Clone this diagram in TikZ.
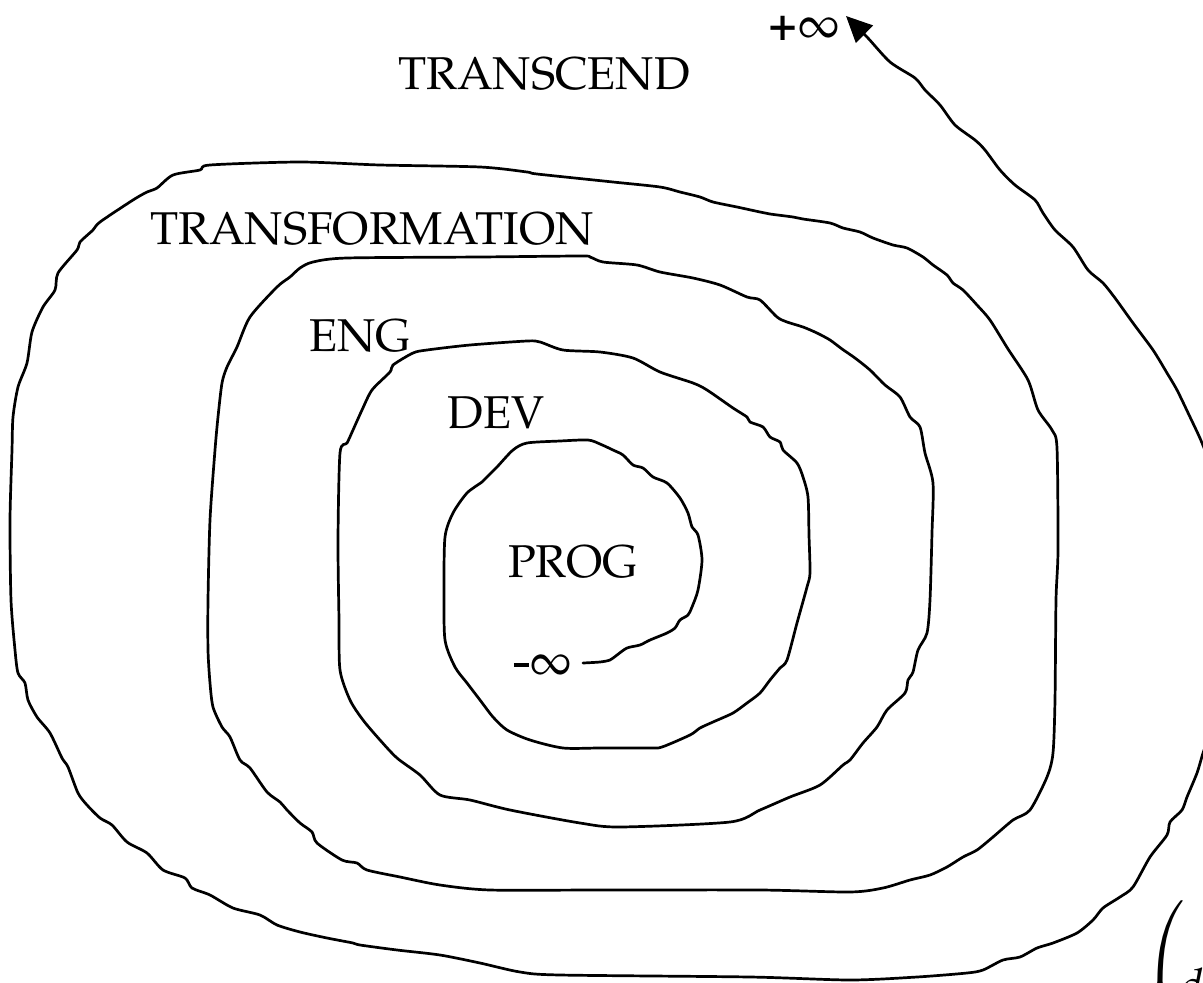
\documentclass[tikz,border=0pt]{standalone}
\usepackage[T1]{fontenc}
\usepackage{mathpazo}
\usetikzlibrary{arrows.meta}

\tikzset{
  spiralline/.style={line width=2.7pt, line cap=round, line join=round,
    -{Triangle[length=26pt,width=24pt]}},
  level/.style={font=\fontsize{46}{50}\selectfont, inner sep=0pt},
  bound/.style={font=\fontsize{48}{52}\selectfont, inner sep=0pt}
}

\begin{document}
\begin{tikzpicture}[x=1pt,y=-1pt]
  \useasboundingbox (0,0) rectangle (1203,983);
  \clip (0,0) rectangle (1203,983);

  % labels of the nested levels
  \node[level, anchor=base] (transcend) at (544,89)  {TRANSCEND};
  \node[level, anchor=base] (transf)    at (372,244) {TRANSFORMATION};
  \node[level, anchor=base] (eng)       at (360,351) {ENG};
  \node[level, anchor=base] (dev)       at (496,428) {DEV};
  \node[level, anchor=base] (prog)      at (573,577) {PROG};

  % the two ends of the spiral
  \node[bound] (minf) at (543,666) {\rule[10pt]{15pt}{4.5pt}\kern1pt$\infty$};
  \node[bound] (pinf) at (804,28)  {\textbf{+}$\infty$};
  \coordinate (tail) at (583,663);
  \coordinate (tip)  at (846,16);

  % hand-drawn spiral, from the inner end to the outer arrow
  \draw[spiralline] plot[smooth, tension=0.45] coordinates {
    (tail) (600,662) (610,660) (617,655) (627,648) (640,645) (650,640)
    (667,633) (675,628) (680,620) (688,615) (692,607) (698,590) (702,560)
    (698,535) (692,527) (688,513) (680,498) (667,483) (653,477) (643,468)
    (633,465) (623,455) (613,450) (600,444) (588,440) (560,441) (527,443)
    (513,450) (497,467) (487,477) (482,482) (467,493) (453,513) (445,537)
    (444,590) (445,640) (455,667) (467,683) (480,700) (493,717) (507,730)
    (530,740) (563,748) (600,748) (650,748) (662,747)
    (690,735) (700,728) (713,722) (733,713) (747,703) (760,693) (770,680)
    (780,668) (787,660) (797,623) (807,587) (810,573) (809,535) (808,497)
    (803,477) (797,463) (783,450) (780,442) (770,437) (763,427) (750,422)
    (747,417) (733,408) (707,390) (693,383) (660,372) (633,358) (600,352)
    (563,350) (540,342) (527,341) (470,345) (427,350) (413,353) (393,365)
    (390,372) (372,390) (362,410) (353,430) (347,443) (340,453) (338,540)
    (339,620) (340,670) (350,700) (363,720) (380,740) (397,758)
    (420,775) (440,795) (470,800) (510,810) (580,823) (620,827) (730,822)
    (760,810) (790,797) (820,785) (843,765) (850,760) (863,743) (877,727)
    (887,710) (905,693) (908,680) (913,672) (918,650) (927,633) (930,600)
    (932,533) (933,483) (925,453) (920,427) (910,417) (900,397) (885,385)
    (870,370) (855,358) (842,349) (830,340) (817,333) (803,327) (787,322)
    (777,317) (760,300) (747,297) (720,285) (693,278) (660,272) (637,265)
    (603,262) (590,257) (580,256) (480,257) (347,258) (313,262) (300,268)
    (290,277) (277,287) (250,317) (237,347) (227,367) (222,383) (218,417)
    (215,450) (210,520) (208,600) (208,650) (210,683) (213,707) (222,727)
    (230,737) (240,760) (250,768) (267,792) (280,802) (287,810) (300,823)
    (312,832) (317,843) (342,860) (357,863) (367,870) (400,877)
    (440,885) (490,890) (600,890) (760,890) (850,892) (883,888) (910,880)
    (930,875) (947,867) (963,857) (977,850) (993,837) (1013,820) (1030,810)
    (1047,777) (1053,753) (1055,700) (1056,600) (1058,550) (1057,448)
    (1052,430) (1038,410) (1028,380) (1008,349) (990,320) (977,305)
    (963,290) (953,283) (947,275) (933,265) (923,257) (907,248) (893,245)
    (873,238) (860,232) (843,228) (830,223) (803,219) (793,217) (770,214)
    (760,212) (737,207) (713,202) (700,197) (680,192) (660,187) (613,182)
    (537,174) (527,172) (480,167) (380,165) (300,162) (210,165) (200,170)
    (173,175) (157,188) (147,192) (133,200) (100,222) (93,230) (80,242)
    (77,250) (58,273) (55,290) (43,307) (32,332) (27,363) (18,387)
    (13,417) (12,450) (10,520) (11,600) (15,650) (18,673) (25,683)
    (28,700) (37,717) (50,733) (62,758) (68,767) (78,793) (87,805)
    (100,818) (112,825) (127,842) (147,853) (163,870) (185,878) (192,888)
    (210,895) (233,908) (260,915) (277,925) (300,932) (327,938) (353,943)
    (360,945) (397,950) (440,955) (480,963) (520,972) (560,975) (750,977)
    (850,980) (917,977) (967,973) (983,970) (1003,960) (1020,957)
    (1037,948) (1053,943) (1077,933) (1093,920) (1103,908) (1120,897)
    (1133,887) (1150,857) (1167,835) (1170,822) (1182,810) (1187,797)
    (1197,773) (1203,753) (1212,725) (1222,650) (1224,560) (1215,480)
    (1202,443) (1190,417) (1177,390) (1167,373) (1153,350) (1133,323)
    (1115,298) (1103,283) (1088,270) (1073,247) (1055,230) (1043,213)
    (1035,200) (1015,185) (1000,170) (985,150) (975,140) (955,125)
    (940,105) (925,90) (915,78) (890,62) (867,37) (tip)
  };

  % start of a formula at the lower right border
  \node[anchor=north west, inner sep=0pt, font=\fontsize{46}{50}\selectfont]
    (paren) at (1144,900)
    {$\left(\vrule height 110pt depth 110pt width 0pt\right.$};
  \node[anchor=north west, inner sep=0pt, font=\fontsize{46}{50}\selectfont]
    (dsym) at (1180,968) {$d$};
\end{tikzpicture}
\end{document}
